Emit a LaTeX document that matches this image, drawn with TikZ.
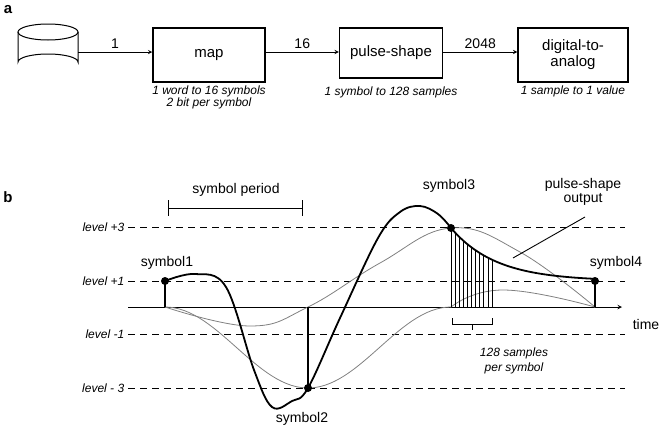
\documentclass[tikz,border=0pt]{standalone}
\usepackage{fontspec}
\setmainfont{Liberation Sans}

\tikzset{
  blockbox/.style={draw, line width=1.5pt, minimum height=54pt, align=center, font=\fontsize{15}{16}\selectfont},
  caption/.style={font=\itshape\fontsize{12}{15}\selectfont, align=center},
  levelline/.style={dashed, dash pattern=on 7pt off 5pt, line width=0.9pt},
  pulse/.style={gray, line width=0.8pt},
  lbl/.style={font=\fontsize{14}{16}\selectfont},
  dot/.style={circle, fill, inner sep=0pt, minimum size=8pt}
}

\begin{document}
\begin{tikzpicture}[x=1pt, y=-1pt, >=stealth]
\useasboundingbox (0,0) rectangle (661,434);

% Part a
\node[font=\bfseries\fontsize{15}{16}\selectfont] (la) at (8,10) {a};
\draw[line width=1pt] (18,32) -- (18,62) arc[start angle=180, end angle=360, x radius=30, y radius=8] -- (78,32);
\draw[line width=1pt] (48,32) ellipse[x radius=30, y radius=8];
\coordinate (db) at (78,52);
\node[blockbox, minimum width=112pt] (map) at (209,55) {map};
\node[blockbox, minimum width=103pt, minimum height=50pt] (shape) at (391,53) {pulse-shape};
\node[blockbox, minimum width=110pt] (dac) at (573,55) {digital-to-\\analog};
\draw[->, line width=0.9pt] (db) -- node[above, lbl] {1} (map.west |- db);
\draw[->, line width=0.9pt] (map.east |- db) -- node[above, lbl] {16} (shape.west |- db);
\draw[->, line width=0.9pt] (shape.east |- db) -- node[above, lbl] {2048} (dac.west |- db);
\node[caption, anchor=north] (cmap) at (map.south) {1 word to 16 symbols\\[-3pt]2 bit per symbol};
\node[caption, anchor=north] (cshape) at (391,83) {1 symbol to 128 samples};
\node[caption, anchor=north] (cdac) at (dac.south) {1 sample to 1 value};

% Part b
\node[font=\bfseries\fontsize{15}{16}\selectfont] (lb) at (8,197) {b};

% Levels
\foreach \y/\t in {227/level +3, 281/level +1, 334/level -1, 388/level - 3}
  \draw[levelline] (128,\y) node[left, caption] {\t} -- (625,\y);

% Axis
\draw[->, line width=1pt] (128,307) -- (622,307);
\node[lbl] (time) at (646,324) {time};

% Single pulses
\draw[pulse, domain=165:451, samples=60] plot (\x, {307+81*sin(0.6294*(\x-165))^2});
\draw[pulse] plot[smooth, tension=0.7] coordinates {(165,307) (250,326) (308,307) (380,263) (451,228) (520,252) (595,307)};
\draw[pulse] plot[smooth, tension=0.8] coordinates {(451,307) (503,290) (595,307)};

% Output
\draw[line width=1.8pt] plot[smooth, tension=0.6] coordinates {(165,281) (195,274) (226,287) (254,370) (272,407) (292,401) (308,388) (340,318) (378,238) (400,212) (420,206) (438,214) (451,228)};
\draw[line width=1.8pt, domain=451:595, samples=50] plot (\x, {281-53*exp(-(\x-451)/45)});

% Samples
\foreach \i in {0,...,10}
  \draw[line width=0.7pt] ({451+4.1*\i},307) -- ({451+4.1*\i},{281-53*exp(-(4.1*\i)/45)});
\draw[line width=0.9pt] (452,318) -- (452,324) -- (492,324) -- (492,318);
\draw[line width=0.9pt] (472,324) -- (472,330);
\node[caption] (nsamp) at (514,361) {128 samples\\per symbol};

% Symbols
\draw[line width=1.8pt] (165,307) -- (165,281);
\draw[line width=1.8pt] (308,307) -- (308,388);
\draw[line width=1.8pt] (595,307) -- (595,281);
\node[dot] (s1) at (165,281) {};
\node[dot] (s2) at (308,388) {};
\node[dot] (s3) at (451,228) {};
\node[dot] (s4) at (595,281) {};
\node[lbl] at (167,263) {symbol1};
\node[lbl] at (302,419) {symbol2};
\node[lbl] at (449,186) {symbol3};
\node[lbl] at (616,263) {symbol4};

% Symbol period
\draw[line width=0.9pt] (168,200) -- (168,216);
\draw[line width=0.9pt] (302,200) -- (302,216);
\draw[line width=0.9pt] (168,208) -- (302,208);
\node[lbl] (period) at (236,190) {symbol period};

% Output label
\node[lbl, align=center] (outl) at (583,192) {pulse-shape\\[-2pt]output};
\draw[line width=0.9pt] (585,217) -- (513,258);
\end{tikzpicture}
\end{document}
